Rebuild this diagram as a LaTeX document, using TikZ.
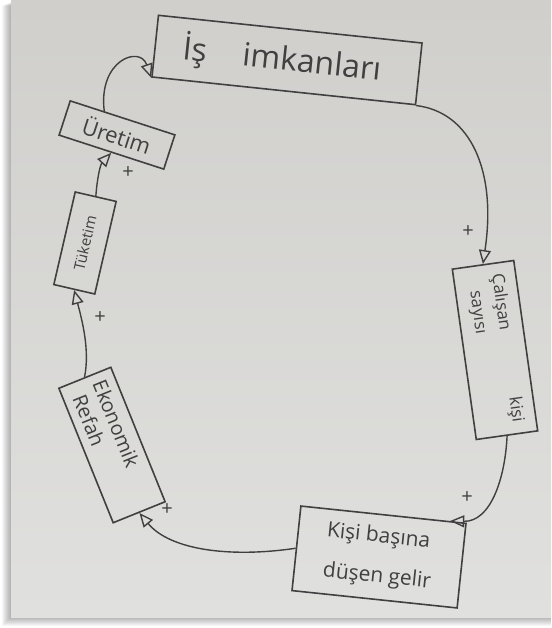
\documentclass[tikz,border=0pt]{standalone}
\usepackage{fontspec}
\setmainfont{Open Sans}
\usetikzlibrary{arrows.meta,calc}
\definecolor{paperA}{HTML}{D0CFCC}
\definecolor{paperB}{HTML}{E0E0DE}
\definecolor{pen}{HTML}{404040}
\tikzset{
  box/.style={draw=pen, line width=1.6pt, inner sep=0pt, align=left, text=pen},
  link/.style={draw=pen, line width=1.4pt, -{Triangle[open, length=14pt, width=12pt, line width=1.4pt]}},
  plus/.style={text=pen, font=\fontsize{20}{20}\selectfont}
}
\begin{document}
\begin{tikzpicture}[x=1pt,y=-1pt]
\useasboundingbox (0,0) rectangle (551,628);
\fill[white] (0,0) rectangle (551,628);
% soft shadow
\foreach \i in {1,...,9}{
  \fill[black, opacity=0.035] (11-\i,2+\i*0.4) rectangle (551,617+\i);
}
% paper
\shade[top color=paperA, bottom color=paperB] (11,0) rectangle (551,617);

% nodes
\node[box, rotate=-6, minimum width=265, minimum height=62,
      font=\fontsize{32}{34}\selectfont] (is) at (287,60)
      {\hspace{4pt}İş\hspace{36pt}imkanları\hspace{14pt}};
\node[box, rotate=-82, minimum width=172, minimum height=62, text width=150,
      font=\fontsize{17}{24}\selectfont] (cal) at (495,350)
      {Çalışan\hfill kişi\\\hspace{14pt}sayısı};
\node[box, rotate=-6, minimum width=166, minimum height=85,
      font=\fontsize{21}{40}\selectfont] (kisi) at (379,557)
      {Kişi başına\\düşen gelir};
\node[box, rotate=-68, minimum width=145, minimum height=56, text width=128,
      font=\fontsize{20}{24}\selectfont] (refah) at (112,445)
      {Ekonomik\\\hspace{6pt}Refah};
\node[box, rotate=77, minimum width=95, minimum height=42,
      font=\fontsize{15}{17}\selectfont] (tuk) at (85,243)
      {Tüketim};
\node[box, rotate=-18, minimum width=110, minimum height=36,
      font=\fontsize{22}{24}\selectfont] (ur) at (117,135)
      {Üretim};

% connectors
\draw[link] (is.south east) .. controls (470,112) and (497,170) .. (cal.west);
\draw[link] (cal.east) .. controls (505,480) and (490,522) .. ($(kisi.north)!0.8!(kisi.north east)$);
\draw[link] (kisi.west) .. controls (230,558) and (170,550) .. (refah.east);
\draw[link] (refah.west) .. controls (90,350) and (82,320) .. (tuk.west);
\draw[link] (tuk.east) .. controls (97,180) and (100,165) .. (ur.south);
\draw[link] ($(ur.north west)!0.65!(ur.north)$) .. controls (98,60) and (140,45) .. (is.south west);

% polarity signs
\node[plus] (p1) at (468,232) {+};
\node[plus] (p2) at (467,498) {+};
\node[plus] (p3) at (167,510) {+};
\node[plus] (p4) at (100,318) {+};
\node[plus] (p5) at (128,173) {+};
\end{tikzpicture}
\end{document}
